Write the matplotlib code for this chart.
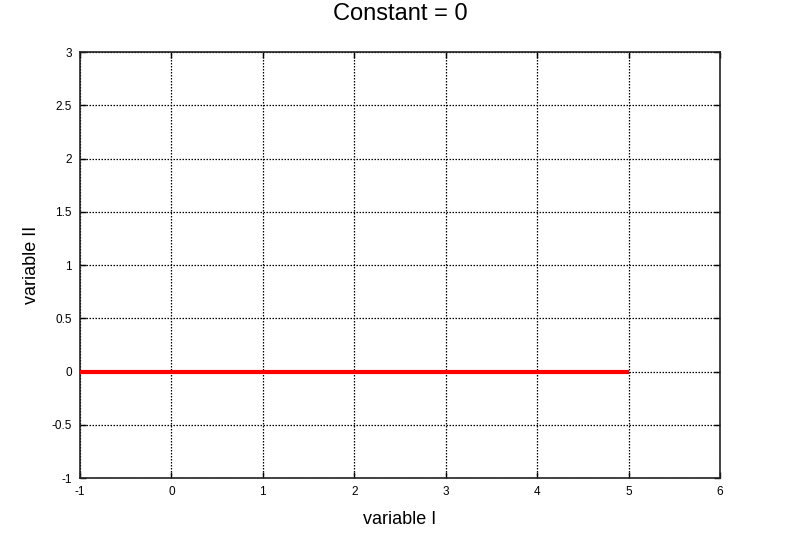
"""Constant function plot in gnuplot style."""

import matplotlib

matplotlib.use("Agg")
import matplotlib.pyplot as plt

x_values = [-1, 0, 1, 2, 3, 4, 5]
y_values = [0, 0, 0, 0, 0, 0, 0]
x_ticks = [-1, 0, 1, 2, 3, 4, 5, 6]
y_ticks = [-1, -0.5, 0, 0.5, 1, 1.5, 2, 2.5, 3]
y_tick_labels = ["-1", "-0.5", "0", "0.5", "1", "1.5", "2", "2.5", "3"]

plt.rcParams["font.family"] = ["Liberation Sans", "DejaVu Sans"]

fig = plt.figure(figsize=(8, 5.33), dpi=100)
ax = fig.add_axes([0.1, 0.103, 0.8, 0.799])

ax.plot(x_values, y_values, color="red", linewidth=3, solid_capstyle="butt", zorder=3)

ax.set_xlim(-1, 6)
ax.set_ylim(-1, 3)
ax.set_xticks(x_ticks)
ax.set_xticklabels([str(t) for t in x_ticks])
ax.set_yticks(y_ticks)
ax.set_yticklabels(y_tick_labels)
ax.tick_params(direction="in", length=4, width=1, labelsize=8.5,
               top=True, right=True, pad=6, colors="black")
ax.grid(True, color="black", linestyle=(0, (1.2, 1.2)), linewidth=0.9)

for spine in ax.spines.values():
    spine.set_linewidth(1.2)
    spine.set_color("#222222")

ax.set_xlabel("variable I", fontsize=13, labelpad=9)
ax.set_ylabel("variable II", fontsize=13, labelpad=8)
fig.suptitle("Constant = 0", fontsize=17, y=0.995, va="top")

fig.savefig("out.png", dpi=100)
plt.close(fig)
